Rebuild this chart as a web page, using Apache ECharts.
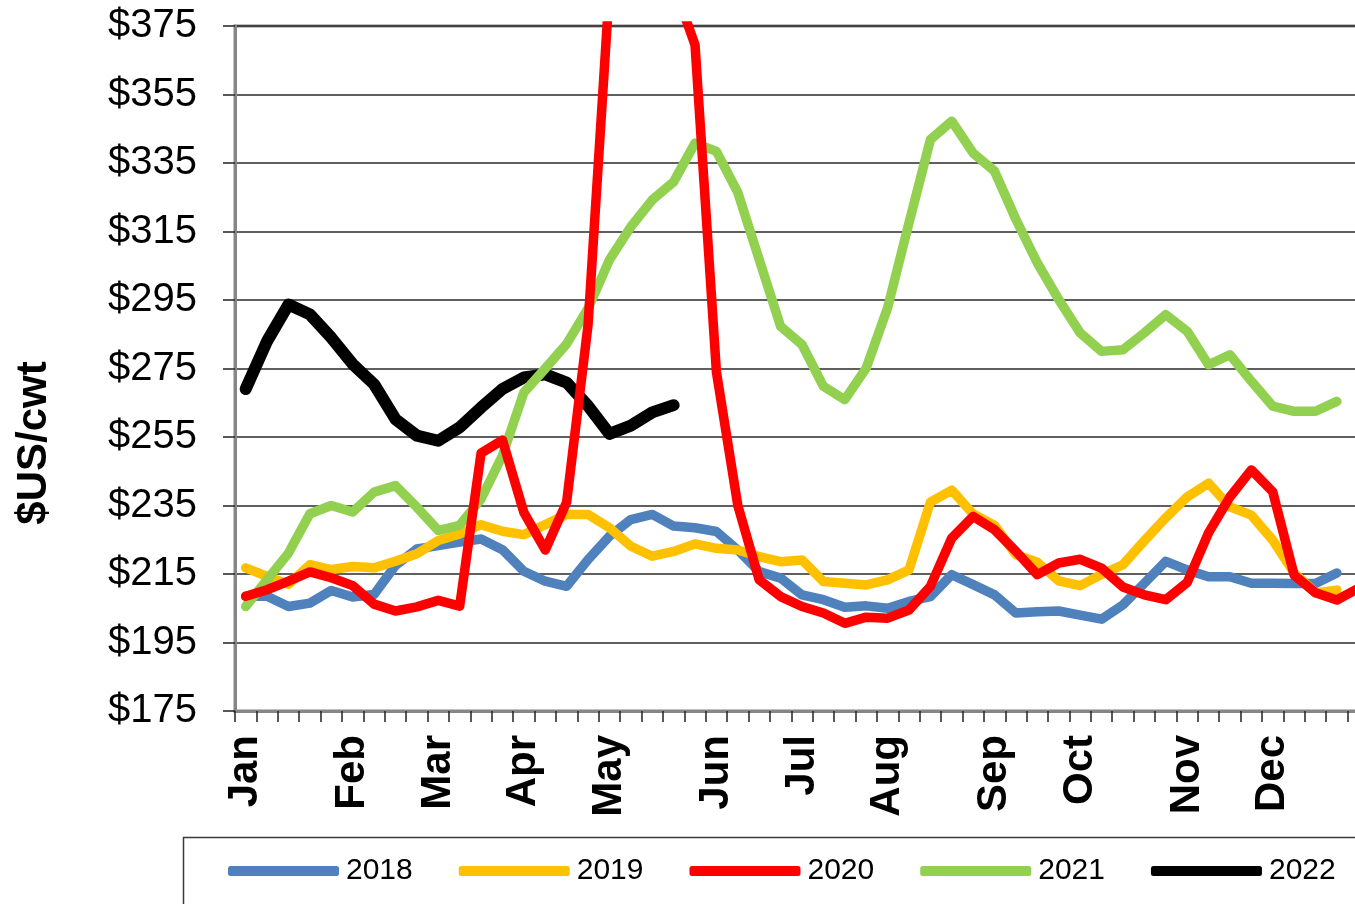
<!DOCTYPE html>
<html>
<head>
<meta charset="utf-8">
<script src="https://cdn.jsdelivr.net/npm/echarts@6.0.0/dist/echarts.min.js"></script>
<style>
  html, body { margin: 0; padding: 0; background: #fff; }
  #chart { width: 1355px; height: 904px; }
</style>
</head>
<body>
<div id="chart"></div>
<script>
// weekly prices, $US/cwt, week 0 = first week of Jan
var monthNames = ['Jan','Feb','Mar','Apr','May','Jun','Jul','Aug','Sep','Oct','Nov','Dec'];
var monthWeeks = [0, 5, 9, 13, 17, 22, 26, 30, 35, 39, 44, 48];
var weekCount = 53;

var y2018 = [208.5,208.5,205.5,206.5,210.2,208.3,209,217.5,222.3,223.3,224.3,225.2,222.1,215.8,212.9,211.4,219.2,226,230.9,232.4,229,
  228.5,227.4,222,215.7,213.8,208.9,207.5,205.3,205.7,205,207,208.4,214.8,211.9,208.9,203.6,204,204.2,203,201.8,206,212.3,218.7,216.2,
  214.2,214.2,212.3,212.3,212.2,212.2,215.3];
var y2019 = [216.8,214.3,212,217.7,216.3,217.2,216.8,218.7,220.9,224.8,226.7,229.4,227.5,226.5,229.4,232.4,232.4,228.5,223.1,220.2,221.6,
  223.8,222.5,222,220.1,218.6,219.1,212.8,212.3,211.8,213.3,216.2,236,239.5,232.5,229.2,220.6,218.4,213,211.6,214.9,217.7,224.7,231.4,237.5,
  241.5,234.6,232.2,224.9,215.3,209.5,210.3];
var y2020 = [208.5,210.4,212.9,215.6,213.9,211.6,206.2,204.2,205.4,207.3,205.6,250.3,254.1,233,222,236,287.7,386,402,400,387,
  369.5,274,235,213.3,208.4,205.5,203.6,200.6,202.4,202.1,204.5,211.4,225.5,231.8,227.9,221.6,214.8,218.2,219.3,216.7,211.2,208.9,207.5,212.5,
  227,237.5,245.4,239,214.7,209.5,207.4,210.8];
var y2021 = [205.5,213.3,221.1,232.6,235,233.1,238.9,240.8,234.5,227.7,229.2,236.9,249.6,268,275,282.2,292.5,306.7,316.4,324.2,329.5,
  340.8,338.4,326.4,306.8,287.3,282,269.8,265.9,275.1,292.7,317.5,341.8,347.2,337.9,332.6,318.5,305.8,295.1,285.4,280,280.5,285.4,290.7,285.9,
  276.1,279,271.3,264,262.5,262.5,265.4];
var y2022 = [269,283,293.7,290.8,284,276.3,270.4,260.2,255.4,253.9,257.8,263.6,269,272.4,273.3,270.9,264.1,255.9,258.3,262.2,264.3];

var weeks = [];
for (var w = 0; w < weekCount; w++) {
  var k = monthWeeks.indexOf(w);
  weeks.push(k >= 0 ? monthNames[k] : 'w' + w);
}

var FONT = '"Liberation Sans", Arial, sans-serif';

var chart = echarts.init(document.getElementById('chart'));

var mkLine = function (name, data, color, width, z) {
  return {
    name: name, type: 'line', data: data, z: z,
    showSymbol: false, symbol: 'none', smooth: false, clip: true,
    lineStyle: { color: color, width: width, cap: 'round', join: 'round' },
    itemStyle: { color: color },
    emphasis: { disabled: true }
  };
};

var option = {
  animation: false,
  backgroundColor: '#fff',
  grid: {
    left: 235, top: 26, bottom: 193, width: 1134,
    outerBoundsMode: 'none', containLabel: false,
    show: true, borderColor: '#868686', borderWidth: 3, backgroundColor: 'transparent'
  },
  legend: {
    data: ['2018','2019','2020','2021','2022'],
    left: 228, top: 856,
    padding: 0,
    icon: 'roundRect',
    itemWidth: 111, itemHeight: 10, itemGap: 46,
    textStyle: { fontFamily: FONT, fontSize: 30, color: '#000', padding: [0, 0, 0, 2] }
  },
  graphic: [
    { type: 'rect', shape: { x: 183.5, y: 837.5, width: 1250, height: 120 },
      style: { fill: 'none', stroke: '#3a3a3a', lineWidth: 1.5 }, z: -1 },
    { type: 'text', x: 34, y: 443, rotation: Math.PI / 2,
      style: { text: '$US/cwt', font: 'bold 42px ' + FONT, fill: '#000', align: 'center', verticalAlign: 'middle' } }
  ],
  xAxis: {
    type: 'category', data: weeks, boundaryGap: true,
    axisLine: { lineStyle: { color: '#868686', width: 3 } },
    axisTick: { show: true, interval: 0, length: 11, lineStyle: { color: '#222', width: 1.5 } },
    axisLabel: {
      interval: function (i) { return monthWeeks.indexOf(i) >= 0; },
      rotate: 90, margin: 24,
      fontFamily: FONT, fontSize: 42, fontWeight: 'bold', color: '#000'
    },
    splitLine: { show: false }
  },
  yAxis: {
    type: 'value', min: 175, max: 375, interval: 20,
    axisLine: { show: true, lineStyle: { color: '#868686', width: 3 } },
    axisTick: { show: true, length: 12, lineStyle: { color: '#222', width: 1.5 } },
    axisLabel: {
      margin: 38, fontFamily: FONT, fontSize: 40, color: '#000',
      formatter: function (v) { return '$' + v; }
    },
    splitLine: { lineStyle: { color: '#2a2a2a', width: 1.5 } }
  },
  series: [
    mkLine('2018', y2018, '#4F81BD', 9.5, 2),
    mkLine('2019', y2019, '#FFC000', 9.5, 3),
    mkLine('2022', y2022, '#000000', 12, 4),
    mkLine('2021', y2021, '#92D050', 9.5, 5),
    mkLine('2020', y2020, '#FF0000', 9.5, 6)
  ]
};

chart.setOption(option);
</script>
</body>
</html>
